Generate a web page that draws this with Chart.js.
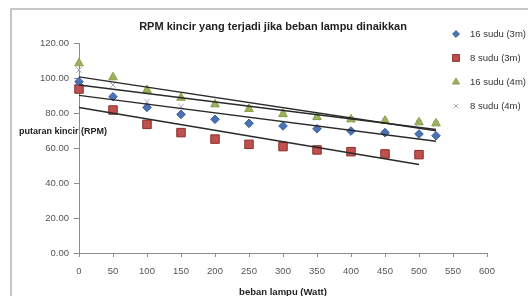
<!DOCTYPE html>
<html>
<head>
<meta charset="utf-8">
<script src="https://cdn.jsdelivr.net/npm/chart.js@4"></script>
<style>
  html, body { margin: 0; padding: 0; background: #fff; }
  #wrap { width: 528px; height: 296px; position: relative; }
</style>
</head>
<body>
<div id="wrap"><canvas id="chart" width="528" height="296"></canvas></div>
<script>
// beban lampu (Watt)
const bebanA = [0, 50, 100, 150, 200, 250, 300, 350, 400, 450, 500, 525];
const bebanB = [0, 50, 100, 150, 200, 250, 300, 350, 400, 450, 500];

// putaran kincir (RPM)
const sudu16_3m = [97.9, 89.3, 83.2, 79.2, 76.4, 74.1, 72.6, 71.0, 69.7, 68.8, 68.0, 67.0];
const sudu8_3m = [93.7, 81.7, 73.5, 68.8, 65.1, 62.1, 60.8, 58.9, 57.9, 56.6, 56.2];
const sudu16_4m = [108.4, 100.4, 93.1, 88.7, 85.0, 82.3, 79.4, 77.7, 76.4, 75.6, 74.7, 74.1];
const sudu8_4m = [104.6, 96.0, 86.5, 83.6, 84.7, 82.0, 79.1, 77.4, 76.1, 75.3, 74.4, 73.8];

const namaSeri = ["16 sudu (3m)", "8 sudu (3m)", "16 sudu (4m)", "8 sudu (4m)"];
const xTicks = [0, 50, 100, 150, 200, 250, 300, 350, 400, 450, 500, 550, 600];
const yTicks = [0, 20, 40, 60, 80, 100, 120];

function toPoints(xs, ys) {
  return ys.map((y, i) => ({ x: xs[i], y: y }));
}

// trendline linear (least squares), sama seperti Excel
function trend(xs, ys) {
  const n = ys.length;
  const mx = xs.slice(0, n).reduce((a, b) => a + b, 0) / n;
  const my = ys.reduce((a, b) => a + b, 0) / n;
  let sxy = 0, sxx = 0;
  for (let i = 0; i < n; i++) {
    sxy += (xs[i] - mx) * (ys[i] - my);
    sxx += (xs[i] - mx) * (xs[i] - mx);
  }
  const b = sxy / sxx;
  const a = my - b * mx;
  const x0 = xs[0], x1 = xs[n - 1];
  return [{ x: x0, y: a + b * x0 }, { x: x1, y: a + b * x1 }];
}

const seri = [
  { label: namaSeri[0], data: toPoints(bebanA, sudu16_3m), pointStyle: "rectRot", pointRadius: 4.3,
    backgroundColor: "#4a72b4", borderColor: "#3a5f9c" },
  { label: namaSeri[1], data: toPoints(bebanB, sudu8_3m), pointStyle: "rect", pointRadius: 6,
    backgroundColor: "#c0504d", borderColor: "#8a2f2c" },
  { label: namaSeri[2], data: toPoints(bebanA, sudu16_4m), pointStyle: "triangle", pointRadius: 5,
    backgroundColor: "#9bb15a", borderColor: "#8aa04a" },
  { label: namaSeri[3], data: toPoints(bebanA, sudu8_4m), pointStyle: "crossRot", pointRadius: 4,
    backgroundColor: "#a8a8bc", borderColor: "#a8a8bc" },
];

const datasets = [];
seri.forEach((s) => {
  datasets.push({
    label: s.label,
    data: s.data,
    pointStyle: s.pointStyle,
    pointRadius: s.pointRadius,
    pointBackgroundColor: s.backgroundColor,
    pointBorderColor: s.borderColor,
    pointBorderWidth: 1,
    showLine: false,
    clip: false,
  });
});
seri.forEach((s) => {
  const xs = s.data.map((p) => p.x);
  const ys = s.data.map((p) => p.y);
  datasets.push({
    label: "trend " + s.label,
    data: trend(xs, ys),
    showLine: true,
    borderColor: "#2a2a2a",
    borderWidth: 1.5,
    pointRadius: 0,
    clip: false,
    order: -1,
  });
});

const fontUI = "'Liberation Sans', Arial, sans-serif";

const bingkai = {
  id: "bingkai",
  afterDraw(chart) {
    const ctx = chart.ctx;
    ctx.save();
    // garis tepi area chart (kiri & atas)
    ctx.strokeStyle = "#b4b4b4";
    ctx.lineWidth = 1.5;
    ctx.beginPath();
    ctx.moveTo(11, 300);
    ctx.lineTo(11, 9);
    ctx.lineTo(530, 9);
    ctx.stroke();

    // judul
    ctx.fillStyle = "#222";
    ctx.font = "bold 11px " + fontUI;
    ctx.textAlign = "center";
    ctx.textBaseline = "middle";
    ctx.fillText("RPM kincir yang terjadi jika beban lampu dinaikkan", 273, 27);

    // judul sumbu y (horizontal)
    ctx.font = "bold 9px " + fontUI;
    ctx.textAlign = "left";
    ctx.fillText("putaran kincir (RPM)", 19, 132);

    // legenda
    const rows = [34, 58, 82, 106];
    ctx.font = "9.5px " + fontUI;
    seri.forEach((s, i) => {
      const y = rows[i];
      ctx.fillStyle = s.backgroundColor;
      ctx.strokeStyle = s.borderColor;
      ctx.lineWidth = 1;
      Chart.helpers.drawPoint(ctx, { pointStyle: s.pointStyle, radius: s.pointRadius * 0.8, borderWidth: 1 }, 456, y);
      ctx.fillStyle = "#333";
      ctx.fillText(s.label, 470, y);
    });
    ctx.restore();
  },
};

new Chart(document.getElementById("chart"), {
  type: "scatter",
  data: { datasets },
  plugins: [bingkai],
  options: {
    responsive: false,
    animation: false,
    events: [],
    layout: { padding: { left: 0, right: 41, top: 43, bottom: 0 } },
    plugins: {
      legend: { display: false },
      title: { display: false },
      tooltip: { enabled: false },
    },
    scales: {
      x: {
        type: "linear",
        min: 0,
        max: 600,
        afterBuildTicks: (s) => { s.ticks = xTicks.map((v) => ({ value: v })); },
        afterFit: (s) => { s.height = 43; },
        grid: { drawOnChartArea: false, drawTicks: true, tickLength: 4, color: "#8c8c8c" },
        border: { color: "#8c8c8c", width: 1 },
        ticks: { color: "#555", font: { family: fontUI, size: 9.5 }, padding: 9, maxRotation: 0 },
        title: {
          display: true,
          text: "beban lampu (Watt)",
          color: "#222",
          font: { family: fontUI, size: 9.5, weight: "bold", lineHeight: 1 },
          padding: { top: 0, bottom: -1 },
        },
      },
      y: {
        min: 0,
        max: 120,
        afterBuildTicks: (s) => { s.ticks = yTicks.map((v) => ({ value: v })); },
        afterFit: (s) => { s.width = 79; },
        grid: { drawOnChartArea: false, drawTicks: true, tickLength: 5, color: "#8c8c8c" },
        border: { color: "#8c8c8c", width: 1 },
        ticks: {
          color: "#555",
          font: { family: fontUI, size: 9.5 },
          padding: 5,
          callback: (v) => v.toFixed(2),
        },
      },
    },
  },
});
</script>
</body>
</html>
